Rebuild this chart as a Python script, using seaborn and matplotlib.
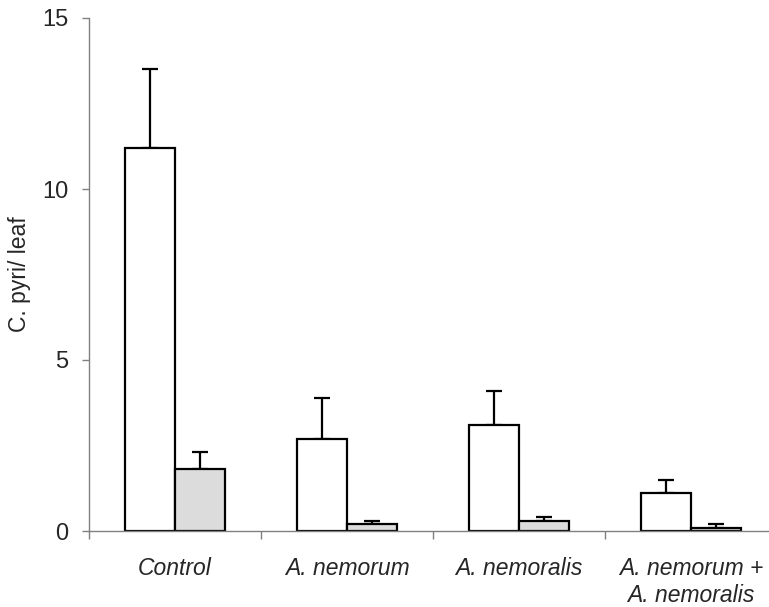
import pandas as pd
import matplotlib
matplotlib.use("Agg")
import matplotlib.pyplot as plt
import seaborn as sns
from matplotlib.ticker import FixedLocator

# data
categories = ["Control", "A. nemorum", "A. nemoralis", "A. nemorum +\nA. nemoralis"]
series = ["white", "gray"]
white_means = [11.2, 2.7, 3.1, 1.1]
white_err = [2.3, 1.2, 1.0, 0.4]
gray_means = [1.8, 0.2, 0.3, 0.1]
gray_err = [0.5, 0.1, 0.1, 0.1]
y_ticks = [0, 5, 10, 15]

df = pd.DataFrame({
    "group": categories * 2,
    "series": [series[0]] * 4 + [series[1]] * 4,
    "value": white_means + gray_means,
})

sns.set_style("white")
plt.rcParams["font.family"] = ["Liberation Sans", "DejaVu Sans"]

fig = plt.figure(figsize=(7.69, 6.07), dpi=100)
ax = fig.add_axes([89 / 769, 76 / 607, 688 / 769, 513 / 607])

sns.barplot(data=df, x="group", y="value", hue="series", order=categories,
            hue_order=series, palette=["white", "#dcdcdc"], width=0.58,
            gap=0, edgecolor="black", linewidth=1.6, errorbar=None,
            legend=False, ax=ax)

# upward-only error bars on each bar
for cont, errs in zip(ax.containers, [white_err, gray_err]):
    xs = [p.get_x() + p.get_width() / 2 for p in cont.patches]
    hs = [p.get_height() for p in cont.patches]
    ax.errorbar(xs, hs, yerr=[[0] * len(errs), errs], fmt="none",
                ecolor="black", elinewidth=1.6, capsize=5.5, capthick=1.6,
                zorder=0)

ax.set_ylim(0, 15)
ax.set_xlim(-0.5, 3.5)
ax.set_yticks(y_ticks)
ax.set_yticklabels([str(t) for t in y_ticks], fontsize=17)
ax.set_xticks(range(len(categories)))
ax.set_xticklabels(categories, fontsize=16.5, style="italic", linespacing=1.2)
ax.xaxis.set_minor_locator(FixedLocator([-0.5, 0.5, 1.5, 2.5]))
ax.tick_params(axis="x", which="major", length=0, pad=19)
ax.tick_params(axis="x", which="minor", length=6, width=1, color="#808080",
               direction="out", bottom=True)
ax.tick_params(axis="y", length=5, width=1, color="#808080", direction="out",
               left=True, pad=10)
ax.set_xlabel("")
ax.set_ylabel("C. pyri/ leaf", fontsize=16.5, labelpad=8)

for side in ["top", "right"]:
    ax.spines[side].set_visible(False)
for side in ["left", "bottom"]:
    ax.spines[side].set_color("#808080")
    ax.spines[side].set_linewidth(1)

fig.savefig("out.png", dpi=100)
